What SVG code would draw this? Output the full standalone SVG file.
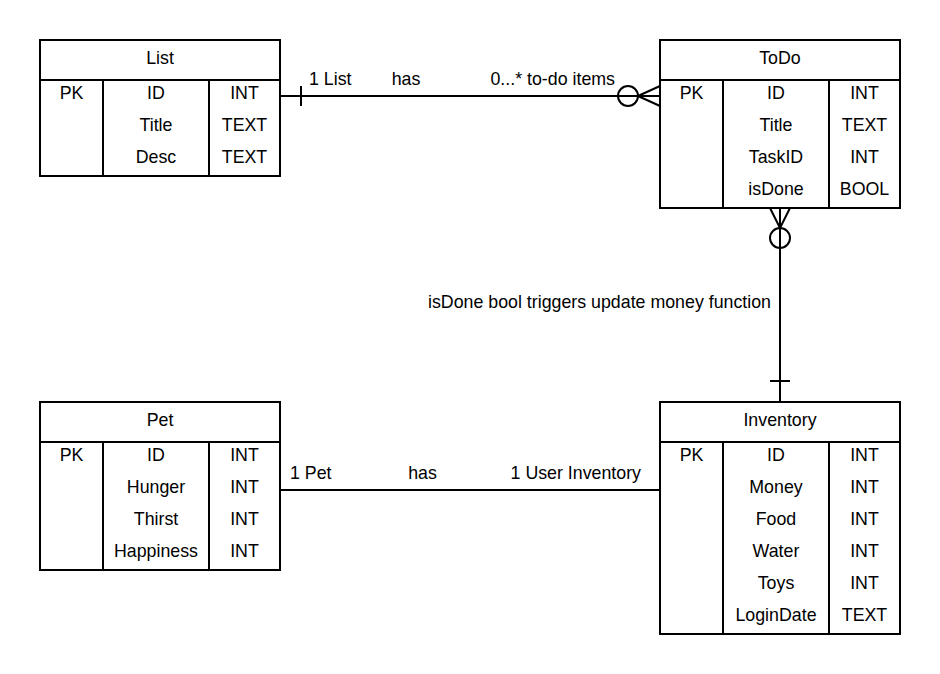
<svg xmlns="http://www.w3.org/2000/svg" width="940" height="674" viewBox="0 0 940 674">
<style>
.box{fill:#fff;stroke:#000;stroke-width:2}
.ln{stroke:#000;stroke-width:2;fill:none}
text{font-family:"Liberation Sans",Arial,sans-serif;font-size:17.8px;fill:#000}
.c{text-anchor:middle}
.e{text-anchor:end}
</style>
<rect width="940" height="674" fill="#fff"/>
<g id="connectors">
  <g id="list-todo">
    <line class="ln" x1="280" y1="96" x2="660" y2="96"/>
    <line class="ln" x1="301" y1="86" x2="301" y2="106"/>
    <circle class="ln" cx="628" cy="96" r="10" fill="#fff"/>
    <path class="ln" d="M638 96 L660 86 M638 96 L660 106"/>
    <text x="309" y="85">1 List</text>
    <text class="c" x="406" y="85">has</text>
    <text class="e" x="615" y="85">0...* to-do items</text>
  </g>
  <g id="todo-inventory">
    <line class="ln" x1="780" y1="208" x2="780" y2="402"/>
    <path class="ln" d="M770 208 L780 228 L790 208"/>
    <circle class="ln" cx="780" cy="238" r="10" fill="#fff"/>
    <line class="ln" x1="770" y1="381" x2="790" y2="381"/>
    <text class="e" x="771" y="307.5">isDone bool triggers update money function</text>
  </g>
  <g id="pet-inventory">
    <line class="ln" x1="280" y1="490" x2="660" y2="490"/>
    <text x="290" y="478.5">1 Pet</text>
    <text class="c" x="422.5" y="478.5">has</text>
    <text class="e" x="641" y="478.5">1 User Inventory</text>
  </g>
</g>
<g id="List">
  <rect class="box" x="40" y="40" width="240" height="136"/>
  <path class="ln" d="M40 80 H280 M103 80 V176 M209 80 V176"/>
  <text class="c" x="160" y="63.5">List</text>
  <text class="c" x="71.5" y="99">PK</text>
  <text class="c" x="156" y="99">ID</text>
  <text class="c" x="244.5" y="99">INT</text>
  <text class="c" x="156" y="131">Title</text>
  <text class="c" x="244.5" y="131">TEXT</text>
  <text class="c" x="156" y="163">Desc</text>
  <text class="c" x="244.5" y="163">TEXT</text>
</g>
<g id="ToDo">
  <rect class="box" x="660" y="40" width="240" height="168"/>
  <path class="ln" d="M660 80 H900 M723 80 V208 M829 80 V208"/>
  <text class="c" x="780" y="63.5">ToDo</text>
  <text class="c" x="691.5" y="99">PK</text>
  <text class="c" x="776" y="99">ID</text>
  <text class="c" x="864.5" y="99">INT</text>
  <text class="c" x="776" y="131">Title</text>
  <text class="c" x="864.5" y="131">TEXT</text>
  <text class="c" x="776" y="163">TaskID</text>
  <text class="c" x="864.5" y="163">INT</text>
  <text class="c" x="776" y="195">isDone</text>
  <text class="c" x="864.5" y="195">BOOL</text>
</g>
<g id="Pet">
  <rect class="box" x="40" y="402" width="240" height="168"/>
  <path class="ln" d="M40 442 H280 M103 442 V570 M209 442 V570"/>
  <text class="c" x="160" y="425.5">Pet</text>
  <text class="c" x="71.5" y="461">PK</text>
  <text class="c" x="156" y="461">ID</text>
  <text class="c" x="244.5" y="461">INT</text>
  <text class="c" x="156" y="493">Hunger</text>
  <text class="c" x="244.5" y="493">INT</text>
  <text class="c" x="156" y="525">Thirst</text>
  <text class="c" x="244.5" y="525">INT</text>
  <text class="c" x="156" y="557">Happiness</text>
  <text class="c" x="244.5" y="557">INT</text>
</g>
<g id="Inventory">
  <rect class="box" x="660" y="402" width="240" height="232"/>
  <path class="ln" d="M660 442 H900 M723 442 V634 M829 442 V634"/>
  <text class="c" x="780" y="425.5">Inventory</text>
  <text class="c" x="691.5" y="461">PK</text>
  <text class="c" x="776" y="461">ID</text>
  <text class="c" x="864.5" y="461">INT</text>
  <text class="c" x="776" y="493">Money</text>
  <text class="c" x="864.5" y="493">INT</text>
  <text class="c" x="776" y="525">Food</text>
  <text class="c" x="864.5" y="525">INT</text>
  <text class="c" x="776" y="557">Water</text>
  <text class="c" x="864.5" y="557">INT</text>
  <text class="c" x="776" y="589">Toys</text>
  <text class="c" x="864.5" y="589">INT</text>
  <text class="c" x="776" y="621">LoginDate</text>
  <text class="c" x="864.5" y="621">TEXT</text>
</g>
</svg>
